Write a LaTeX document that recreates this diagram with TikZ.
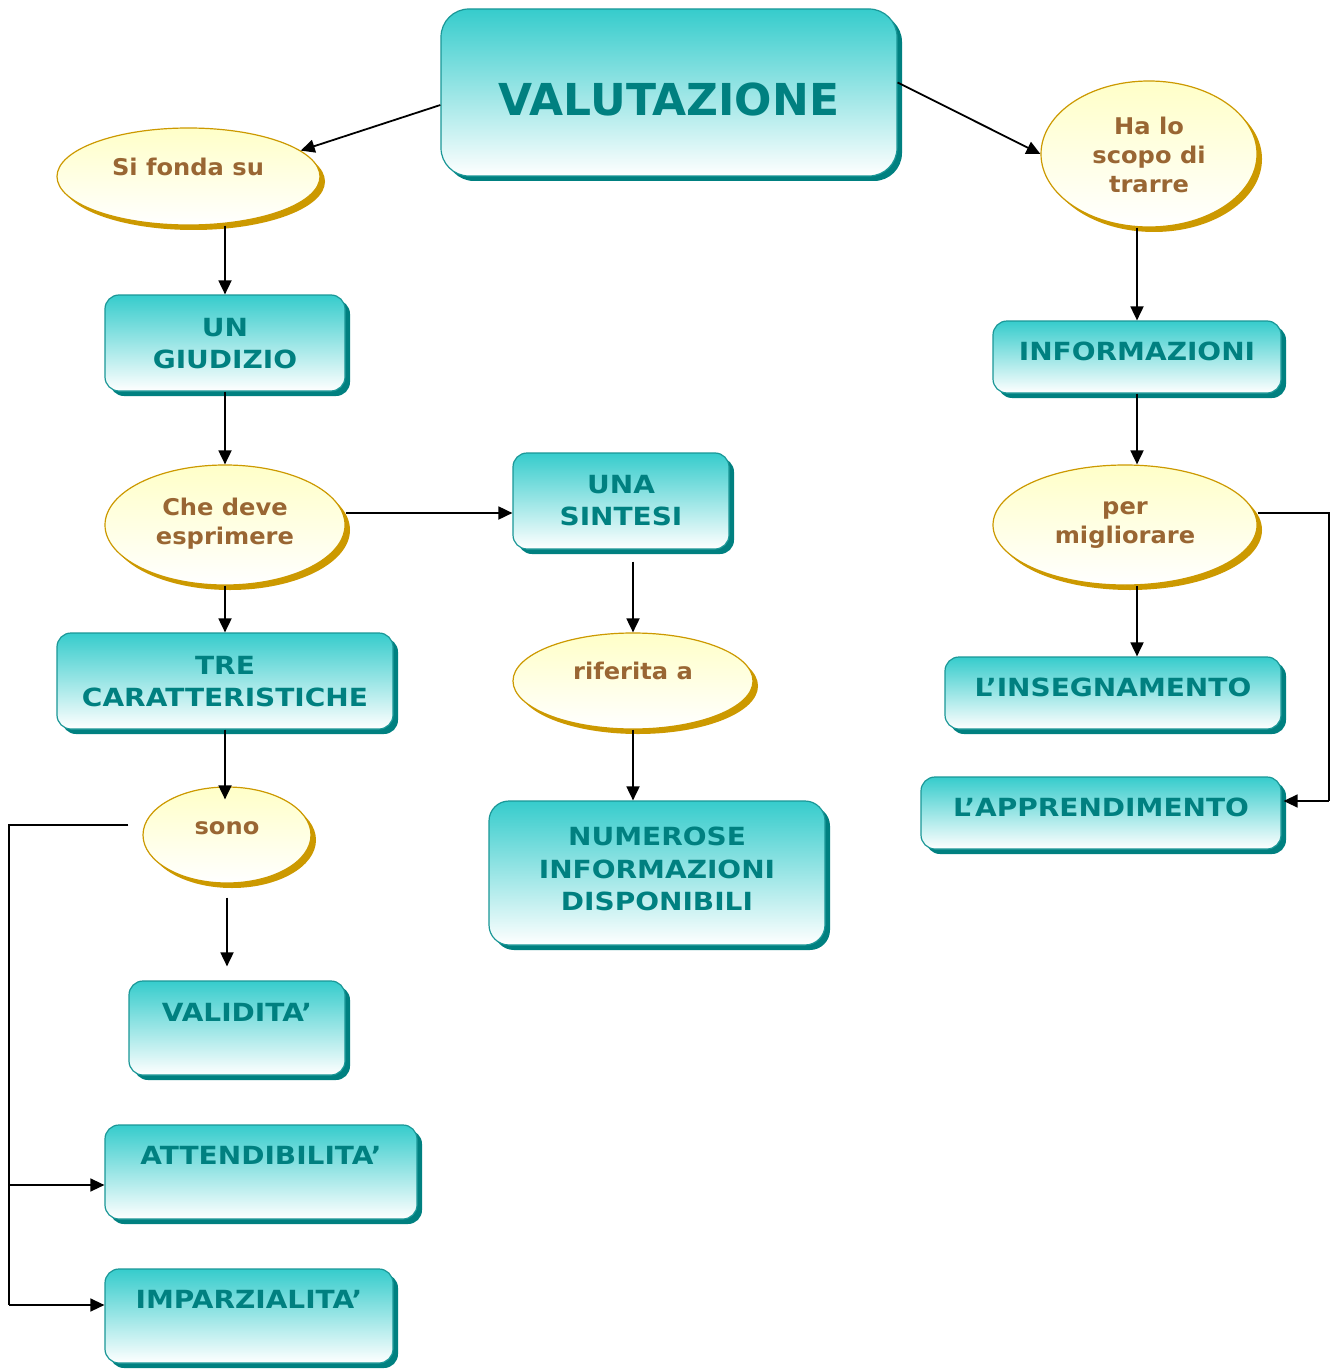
\documentclass[tikz,border=0pt]{standalone}
\usepackage{fontspec}
\setmainfont{DejaVu Sans}
\newfontfamily\boxfont[FakeStretch=1.12]{DejaVu Sans}
\newfontfamily\ellfont[FakeStretch=1.05]{DejaVu Sans}
\usetikzlibrary{shapes.geometric,shadows,arrows.meta}
\definecolor{boxtop}{HTML}{36CCCC}
\definecolor{boxedge}{HTML}{1A9797}
\definecolor{boxshadow}{HTML}{008080}
\definecolor{boxtext}{HTML}{008080}
\definecolor{elltop}{HTML}{FFFFC8}
\definecolor{elledge}{HTML}{CC9900}
\definecolor{elltext}{HTML}{996633}
\newcommand\capstrut{\vphantom{H}}
\begin{document}
\begin{tikzpicture}[x=1pt,y=-1pt,
  cbox/.style={rectangle, rounded corners=14pt, draw=boxedge, line width=1.2pt,
    top color=boxtop, bottom color=white, inner sep=0pt,
    drop shadow={shadow xshift=5pt, shadow yshift=-5pt, fill=boxshadow, opacity=1}},
  cell/.style={ellipse, draw=elledge, line width=1.2pt,
    top color=elltop, bottom color=white, inner sep=0pt,
    drop shadow={shadow xshift=5pt, shadow yshift=-5pt, fill=elledge, opacity=1}},
  btxt/.style={anchor=north, inner sep=0pt, align=center, text=boxtext,
    font=\boxfont\fontsize{25}{32.3}\selectfont\bfseries},
  etxt/.style={anchor=north, inner sep=0pt, align=center, text=elltext,
    font=\ellfont\fontsize{23}{29}\selectfont\bfseries},
  arr/.style={draw=black, line width=1.8pt, -{Triangle[length=14pt,width=13pt]}},
  rail/.style={draw=black, line width=1.4pt}
]
\useasboundingbox (0,0) rectangle (1335,1372);

% boxes
\node[cbox, rounded corners=28pt, minimum width=456pt, minimum height=167pt] (val) at (669,92.5) {};
\node[cbox, minimum width=240pt, minimum height=96pt] (giud) at (225,343) {};
\node[cbox, minimum width=288pt, minimum height=72pt] (info) at (1137,357) {};
\node[cbox, minimum width=216pt, minimum height=96pt] (sint) at (621,501) {};
\node[cbox, minimum width=336pt, minimum height=96pt] (tre) at (225,681) {};
\node[cbox, rounded corners=20pt, minimum width=336pt, minimum height=144pt] (num) at (657,873) {};
\node[cbox, minimum width=336pt, minimum height=72pt] (ins) at (1113,693) {};
\node[cbox, minimum width=360pt, minimum height=72pt] (app) at (1101,813) {};
\node[cbox, minimum width=216pt, minimum height=94pt] (vali) at (237,1028) {};
\node[cbox, minimum width=312pt, minimum height=94pt] (att) at (261,1172) {};
\node[cbox, minimum width=288pt, minimum height=94pt] (imp) at (249,1316) {};

% ellipses
\node[cell, minimum width=263pt, minimum height=97pt] (fonda) at (188.5,176.5) {};
\node[cell, minimum width=216pt, minimum height=146pt] (scopo) at (1149,154) {};
\node[cell, minimum width=240pt, minimum height=120pt] (deve) at (225,525) {};
\node[cell, minimum width=240pt, minimum height=96pt] (rif) at (633,681) {};
\node[cell, minimum width=168pt, minimum height=96pt] (sono) at (227,835) {};
\node[cell, minimum width=264pt, minimum height=120pt] (migl) at (1125,525) {};

% texts
\node[btxt, font=\fontsize{44}{50}\selectfont\bfseries] (t-val) at (669,83) {\capstrut VALUTAZIONE};
\node[btxt] (t-giud) at (225,318) {\capstrut UN\\GIUDIZIO};
\node[btxt] (t-info) at (1137,342) {\capstrut INFORMAZIONI};
\node[btxt] (t-sint) at (621,475) {\capstrut UNA\\SINTESI};
\node[btxt] (t-tre) at (225,656) {\capstrut TRE\\CARATTERISTICHE};
\node[btxt] (t-num) at (657,827) {\capstrut NUMEROSE\\INFORMAZIONI\\DISPONIBILI};
\node[btxt] (t-ins) at (1113,678) {\capstrut L’INSEGNAMENTO};
\node[btxt] (t-app) at (1101,798) {\capstrut L’APPRENDIMENTO};
\node[btxt] (t-vali) at (237,1003) {\capstrut VALIDITA’};
\node[btxt] (t-att) at (261,1146) {\capstrut ATTENDIBILITA’};
\node[btxt] (t-imp) at (249,1290) {\capstrut IMPARZIALITA’};

\node[etxt] (t-fonda) at (188,158) {\capstrut Si fonda su};
\node[etxt] (t-scopo) at (1149,116.5) {\capstrut Ha lo\\scopo di\\trarre};
\node[etxt] (t-deve) at (225,498) {\capstrut Che deve\\esprimere};
\node[etxt] (t-rif) at (633,661.5) {\capstrut riferita a};
\node[etxt] (t-sono) at (227,818) {\capstrut sono};
\node[etxt] (t-migl) at (1125,498) {\capstrut per\\migliorare};

% connectors
\draw[arr] ([yshift=-12.5pt]val.west) -- (fonda.13);
\draw[arr] ([yshift=10pt]val.east) -- (scopo.west);
\draw[arr] (giud.north |- fonda.south) -- (giud.north);
\draw[arr] (info.north |- scopo.south) -- (info.north);
\draw[arr] (giud.south) -- (deve.north);
\draw[arr] (info.south) -- (info.south |- migl.north);
\coordinate (sw) at ([yshift=-12pt]sint.west);
\draw[arr] (sw -| deve.east) -- (sw);
\coordinate (rtop) at ([yshift=-12pt]rif.north |- sint.south);
\draw[arr] (rtop) -- (rif.north);
\draw[arr] (rif.south) -- (rif.south |- num.north);
\draw[arr] (deve.south) -- (deve.south |- tre.north);
\coordinate (sonotip) at ([yshift=-13pt]tre.south |- sono.north);
\draw[arr] (tre.south) -- (sonotip);
\coordinate (sonob) at ([yshift=-14pt]sono.south);
\draw[arr] (sonob) -- ([yshift=14pt]sonob |- vali.north);
\draw[arr] (info.south |- migl.south) -- (info.south |- ins.north);

% bracket connectors
\coordinate (s1) at ([xshift=-14pt,yshift=10pt]sono.west);
\coordinate (bus) at (9,825);
\coordinate (attA) at ([yshift=-13pt]att.west);
\coordinate (impA) at ([yshift=11pt]imp.west);
\draw[rail] (s1) -- (bus) -- (bus |- impA);
\draw[arr, line width=1.4pt] (bus |- impA) -- (impA);
\draw[arr, line width=1.4pt] (bus |- attA) -- (attA);
\coordinate (rt) at (1329,513);
\coordinate (appA) at ([yshift=12pt,xshift=2pt]app.east);
\draw[rail] ([yshift=12pt]migl.east) -- (rt) -- (rt |- appA);
\draw[arr, line width=1.4pt] (rt |- appA) -- (appA);
\end{tikzpicture}
\end{document}
